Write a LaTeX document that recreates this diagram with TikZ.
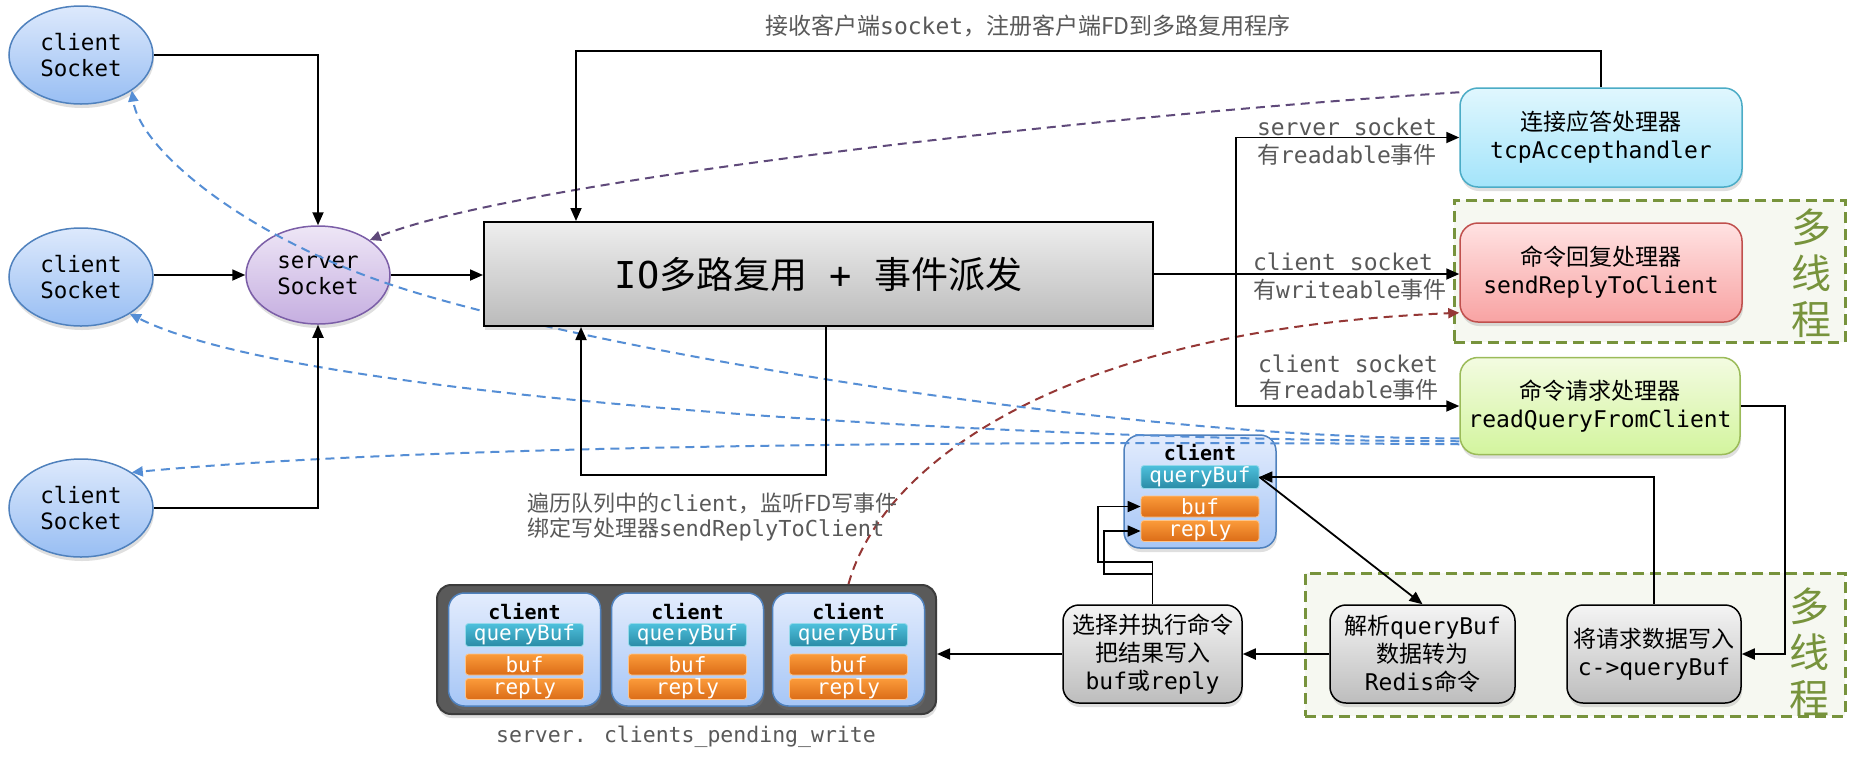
\documentclass[tikz,border=0pt]{standalone}
\usepackage{fontspec}
\setmainfont{DejaVu Sans Mono}
\newfontfamily\cjkfont{Noto Sans CJK SC}
\newcommand\zh[1]{{\cjkfont #1}}
\usetikzlibrary{arrows.meta,shapes.geometric,shadows}
\definecolor{cbTop}{HTML}{DDE9FC}
\definecolor{cbBot}{HTML}{98BEF3}
\definecolor{cbDraw}{HTML}{4F81BD}
\definecolor{svTop}{HTML}{EEE6F6}
\definecolor{svBot}{HTML}{C5AEE0}
\definecolor{svDraw}{HTML}{7B5EA7}
\definecolor{ioTop}{HTML}{EEEEEE}
\definecolor{ioBot}{HTML}{BBBBBB}
\definecolor{acTop}{HTML}{E0F7FE}
\definecolor{acBot}{HTML}{A3E4FA}
\definecolor{acDraw}{HTML}{4BACC6}
\definecolor{srTop}{HTML}{FFE2E2}
\definecolor{srBot}{HTML}{F8A3A3}
\definecolor{srDraw}{HTML}{C0504D}
\definecolor{rqTop}{HTML}{F3FBE1}
\definecolor{rqBot}{HTML}{D3F59E}
\definecolor{rqDraw}{HTML}{9BBB59}
\definecolor{gTop}{HTML}{F4F4F4}
\definecolor{gBot}{HTML}{BDBDBD}
\definecolor{grpDraw}{HTML}{77933C}
\definecolor{grpFill}{HTML}{F6F8F1}
\definecolor{lblGray}{HTML}{595959}
\definecolor{qbTop}{HTML}{4DC0DC}
\definecolor{qbBot}{HTML}{2A8BA6}
\definecolor{orTop}{HTML}{FB9B3A}
\definecolor{orBot}{HTML}{DB6C17}
\definecolor{pendFill}{HTML}{5A5A5A}
\definecolor{pendDraw}{HTML}{3C3C3C}
\definecolor{clTop}{HTML}{E3ECFD}
\definecolor{clBot}{HTML}{A6C6F6}
\definecolor{dBlue}{HTML}{558ED5}
\definecolor{dPurple}{HTML}{5F497A}
\definecolor{dRed}{HTML}{953735}
\tikzset{
  arr/.style={draw=black, line width=1.8pt, -{Triangle[length=13pt,width=11pt]}},
  dashbase/.style={line width=2pt, dash pattern=on 9pt off 6pt, -{Triangle[length=11pt,width=10pt]}},
  bdash/.style={dashbase, draw=dBlue},
  pdash/.style={dashbase, draw=dPurple},
  rdash/.style={dashbase, draw=dRed},
  shd/.style={drop shadow={opacity=0.25,shadow xshift=1pt,shadow yshift=-4pt}},
  sock/.style={ellipse, line width=1.5pt, minimum width=144pt, minimum height=98pt, inner sep=0pt, align=center, font=\fontsize{22.5}{26}\selectfont, shd},
  csock/.style={sock, draw=cbDraw, top color=cbTop, bottom color=cbBot},
  ssock/.style={sock, draw=svDraw, top color=svTop, bottom color=svBot},
  hbox/.style={rectangle, rounded corners=18pt, line width=1.5pt, minimum width=282pt, minimum height=99pt, inner sep=0pt, align=center, font=\fontsize{23}{28}\selectfont, shd},
  gbox/.style={rectangle, rounded corners=16pt, draw=black, line width=1.5pt, top color=gTop, bottom color=gBot, minimum height=98pt, inner sep=0pt, align=center, font=\fontsize{23}{28}\selectfont, shd},
  grp/.style={rectangle, draw=grpDraw, fill=grpFill, line width=3pt, dash pattern=on 11pt off 6pt},
  mt/.style={text=grpDraw, align=center, inner sep=0pt, font=\cjkfont\fontsize{40}{46}\selectfont},
  lbl/.style={text=lblGray, inner sep=0pt, font=\fontsize{23}{28}\selectfont},
  cbox/.style={rectangle, rounded corners=16pt, draw=cbDraw, line width=1.5pt, top color=clTop, bottom color=clBot, minimum width=152pt, minimum height=113pt, shd},
  cttl/.style={inner sep=0pt, font=\bfseries\fontsize{20}{24}\selectfont},
  qbar/.style={rectangle, rounded corners=3pt, minimum width=118pt, minimum height=23pt, inner sep=0pt, top color=qbTop, bottom color=qbBot, draw=qbTop!60!white, line width=0.8pt, text=white, font=\fontsize{21}{24}\selectfont},
  obar/.style={rectangle, rounded corners=3pt, minimum width=118pt, minimum height=21pt, inner sep=0pt, top color=orTop, bottom color=orBot, draw=orTop!60!white, line width=0.8pt, text=white, font=\fontsize{21}{24}\selectfont},
}
\newcommand\clientblk[3]{%
  \node[cbox] (#1) at (#2,#3+56.5) {};
  \node[cttl] (#1-t) at (#2,#3+18) {client};
  \node[qbar] (#1-qb) at (#2,#3+42) {queryBuf};
  \node[obar] (#1-buf) at (#2,#3+71.5) {buf};
  \node[obar] (#1-rep) at (#2,#3+96) {reply};
}
\begin{document}
\begin{tikzpicture}[x=1pt,y=-1pt]
\fill[white] (0,0) rectangle (1851,764);
\useasboundingbox (0,0) rectangle (1851,764);

% multi-thread groups
\node[grp, minimum width=391pt, minimum height=142pt] (g1) at (1649.5,271) {};
\node[grp, minimum width=540pt, minimum height=143pt] (g2) at (1575,644.5) {};
\node[mt] (g1t) at (1811,273) {多\\线\\程};
\node[mt] (g2t) at (1809,652) {多\\线\\程};

% sockets
\node[csock] (c1) at (81,55) {client\\Socket};
\node[csock] (c2) at (81,277) {client\\Socket};
\node[csock] (c3) at (81,508) {client\\Socket};
\node[ssock] (srv) at (318,275) {server\\Socket};

% handlers
\node[hbox, draw=acDraw, top color=acTop, bottom color=acBot] (acc) at (1601,137.5) {\zh{连接应答处理器}\\tcpAccepthandler};
\node[hbox, draw=srDraw, top color=srTop, bottom color=srBot] (snd) at (1601,272.5) {\zh{命令回复处理器}\\sendReplyToClient};
\node[hbox, draw=rqDraw, top color=rqTop, bottom color=rqBot, minimum width=280pt, minimum height=97pt] (rd) at (1600,406) {\zh{命令请求处理器}\\readQueryFromClient};

% processing steps
\node[gbox, minimum width=179pt] (sel) at (1152.5,654) {\zh{选择并执行命令}\\\zh{把结果写入}\\buf\zh{或}reply};
\node[gbox, minimum width=185pt] (par) at (1422.5,654) {\zh{解析}queryBuf\\\zh{数据转为}\\Redis\zh{命令}};
\node[gbox, minimum width=174pt] (wr) at (1654,654) {\zh{将请求数据写入}\\c->queryBuf};

% pending write queue
\node[rectangle, rounded corners=14pt, fill=pendFill, draw=pendDraw, line width=2pt, minimum width=499pt, minimum height=129pt, shd] (pend) at (686.5,649.5) {};
\clientblk{p1}{524.5}{593}
\clientblk{p2}{687.5}{593}
\clientblk{p3}{848.5}{593}
\clientblk{cl}{1200}{435}

% dashed curves
\draw[pdash] ([yshift=-5pt]acc.north west) .. controls (1100,115) and (520,180) .. (srv.34);
\draw[rdash] (p3.north |- pend.north) .. controls (880,470) and (1050,330) .. ([yshift=10pt]snd.south west);
\draw[bdash] ([yshift=17pt]rd.south west) .. controls (1150,440) and (640,360) .. (417,293) .. controls (250,243) and (140,150) .. (c1.-35);
\draw[bdash] ([yshift=14pt]rd.south west) .. controls (1000,440) and (300,400) .. (c2.-37);
\draw[bdash] ([yshift=11pt]rd.south west) .. controls (900,440) and (400,447) .. (c3.35);

% IO box
\node[rectangle, draw=black, line width=2pt, top color=ioTop, bottom color=ioBot, minimum width=669pt, minimum height=104pt, shd, font=\fontsize{37}{44}\selectfont] (io) at (818.5,274) {IO\zh{多路复用} + \zh{事件派发}};

% connectors
\draw[arr] (c1.east) -| (srv.north);
\draw[arr] (c2.east |- srv.west) -- (srv.west);
\draw[arr] (c3.east) -| (srv.south);
\draw[arr] (srv.east) -- (srv.east -| io.west);
\coordinate (topA) at (576,51);
\draw[arr] (acc.north) |- (topA) -- (io.north -| topA);
\draw[arr] (io.east) -- (io.east -| snd.west);
\coordinate (br) at (1236,274);
\draw[arr] (br) |- (acc.west);
\draw[arr] (br) |- (rd.west);
\coordinate (lpR) at (826,475);
\coordinate (lpL) at (581,475);
\draw[arr] (io.south -| lpR) -- (lpR) -- (lpL) -- (io.south -| lpL);
\draw[arr] (sel.west) -- (sel.west -| pend.east);
\draw[arr] (par.west) -- (sel.east);
\draw[arr] (rd.east) -- ++(44,0) |- (wr.east);
\draw[arr] (wr.north) |- (cl-qb.east);
\draw[arr] (cl-qb.east) -- (par.north);
\coordinate (k1) at (1152.5,562);
\coordinate (k2) at (1098,562);
\coordinate (k3) at (1152.5,574);
\coordinate (k4) at (1104,574);
\draw[arr] (sel.north) -- (k1) -- (k2) |- (cl-buf.west);
\draw[arr] (k3) -- (k4) |- (cl-rep.west);

% labels
\node[lbl] (t1) at (1028,26) {\zh{接收客户端}socket\zh{，注册客户端FD到多路复用程序}};
\node[lbl] (l1a) at (1347,127) {server socket};
\node[lbl] (l1b) at (1347,155) {\zh{有}readable\zh{事件}};
\node[lbl] (l2a) at (1343,262) {client socket};
\node[lbl] (l2b) at (1350,290) {\zh{有}writeable\zh{事件}};
\node[lbl] (l3a) at (1348,364) {client socket};
\node[lbl] (l3b) at (1349,390) {\zh{有}readable\zh{事件}};
\node[lbl, font=\fontsize{22}{25}\selectfont, align=left, anchor=west] (t2) at (527,517) {\zh{遍历队列中的}client\zh{，监听FD写事件}\\\zh{绑定写处理器}sendReplyToClient};
\node[lbl, font=\fontsize{21.5}{25}\selectfont] (t3) at (686,737) {server. clients\_pending\_write};
\end{tikzpicture}
\end{document}
